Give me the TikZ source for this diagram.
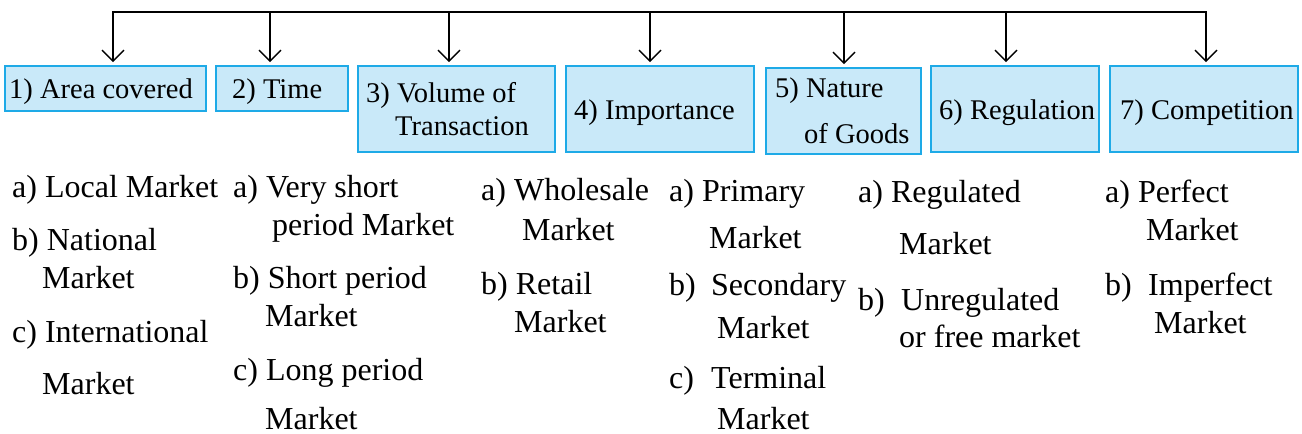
\documentclass[tikz,border=0pt]{standalone}
\usepackage{fontspec}
\setmainfont{Liberation Serif}
\newfontfamily\lserif{Liberation Serif}
\usetikzlibrary{arrows.meta}
\definecolor{boxfill}{HTML}{C9E9F9}
\definecolor{boxline}{HTML}{1EAAE7}
\tikzset{
  catbox/.style={draw=boxline, fill=boxfill, line width=1.8pt, inner sep=0pt},
  boxtxt/.style={anchor=base west, inner sep=0pt, font=\lserif\fontsize{28.5}{30}\selectfont},
  itemtxt/.style={anchor=base west, inner sep=0pt, font=\lserif\fontsize{32}{34}\selectfont},
  downarrow/.style={line width=1.4pt, -{Straight Barb[length=11pt,width=22pt,line width=1.4pt]}, shorten >=3pt},
  trunk/.style={line width=1.8pt, line cap=rect}
}
\begin{document}
\begin{tikzpicture}[x=1pt,y=-1pt]
\useasboundingbox (0,0) rectangle (1302,434);
% boxes
\node[catbox, minimum width=201pt, minimum height=45pt] (b1) at (105.5,88.5) {};
\node[catbox, minimum width=132pt, minimum height=45pt] (b2) at (282,88.5) {};
\node[catbox, minimum width=197pt, minimum height=86pt] (b3) at (456.5,109) {};
\node[catbox, minimum width=188pt, minimum height=86pt] (b4) at (660,109) {};
\node[catbox, minimum width=155pt, minimum height=86pt] (b5) at (843.5,111) {};
\node[catbox, minimum width=168pt, minimum height=86pt] (b6) at (1015,109) {};
\node[catbox, minimum width=188pt, minimum height=86pt] (b7) at (1204,109) {};
% trunk
\coordinate (c1) at (113,12);
\coordinate (c2) at (270,12);
\coordinate (c3) at (449,12);
\coordinate (c4) at (650,12);
\coordinate (c5) at (844,12);
\coordinate (c6) at (1006,12);
\coordinate (c7) at (1206,12);
\draw[trunk] (c1) -- (c7);
\foreach \i in {1,...,7}{
  \draw[downarrow] (c\i) -- (c\i |- b\i.north);
}
% box texts
\node[boxtxt] (t1) at (9,98) {1) Area covered};
\node[boxtxt] (t2) at (232,98) {2) Time};
\node[boxtxt] (t3a) at (366,102) {3) Volume of};
\node[boxtxt] (t3b) at (395,135) {Transaction};
\node[boxtxt] (t4) at (574,119) {4) Importance};
\node[boxtxt] (t5a) at (775,97) {5) Nature};
\node[boxtxt] (t5b) at (804,143) {of Goods};
\node[boxtxt] (t6) at (939,119) {6) Regulation};
\node[boxtxt] (t7) at (1120,119) {7) Competition};
% column 1
\node[itemtxt] (l1a) at (12,197) {a) Local Market};
\node[itemtxt] (l1b) at (12,250) {b) National};
\node[itemtxt] (l1b2) at (42,288) {Market};
\node[itemtxt] (l1c) at (12,342) {c) International};
\node[itemtxt] (l1c2) at (42,394) {Market};
% column 2
\node[itemtxt] (l2a) at (233,197) {a) Very short};
\node[itemtxt] (l2a2) at (272,235) {period Market};
\node[itemtxt] (l2b) at (233,288) {b) Short period};
\node[itemtxt] (l2b2) at (265,326) {Market};
\node[itemtxt] (l2c) at (233,380) {c) Long period};
\node[itemtxt] (l2c2) at (265,429) {Market};
% column 3
\node[itemtxt] (l3a) at (481,200) {a) Wholesale};
\node[itemtxt] (l3a2) at (522,240) {Market};
\node[itemtxt] (l3b) at (481,294) {b) Retail};
\node[itemtxt] (l3b2) at (514,332) {Market};
% column 4
\node[itemtxt] (l4a) at (669,201) {a) Primary};
\node[itemtxt] (l4a2) at (709,248) {Market};
\node[itemtxt] (l4b) at (669,295) {b)};
\node[itemtxt] (l4b1) at (711,295) {Secondary};
\node[itemtxt] (l4b2) at (717,338) {Market};
\node[itemtxt] (l4c) at (669,388) {c)};
\node[itemtxt] (l4c1) at (711,388) {Terminal};
\node[itemtxt] (l4c2) at (717,429) {Market};
% column 5
\node[itemtxt] (l5a) at (858,202) {a) Regulated};
\node[itemtxt] (l5a2) at (899,254) {Market};
\node[itemtxt] (l5b) at (858,310) {b)};
\node[itemtxt] (l5b1) at (901,310) {Unregulated};
\node[itemtxt] (l5b2) at (899,347) {or free market};
% column 6
\node[itemtxt] (l6a) at (1105,202) {a) Perfect};
\node[itemtxt] (l6a2) at (1146,240) {Market};
\node[itemtxt] (l6b) at (1105,295) {b)};
\node[itemtxt] (l6b1) at (1148,295) {Imperfect};
\node[itemtxt] (l6b2) at (1154,333) {Market};
\end{tikzpicture}
\end{document}
